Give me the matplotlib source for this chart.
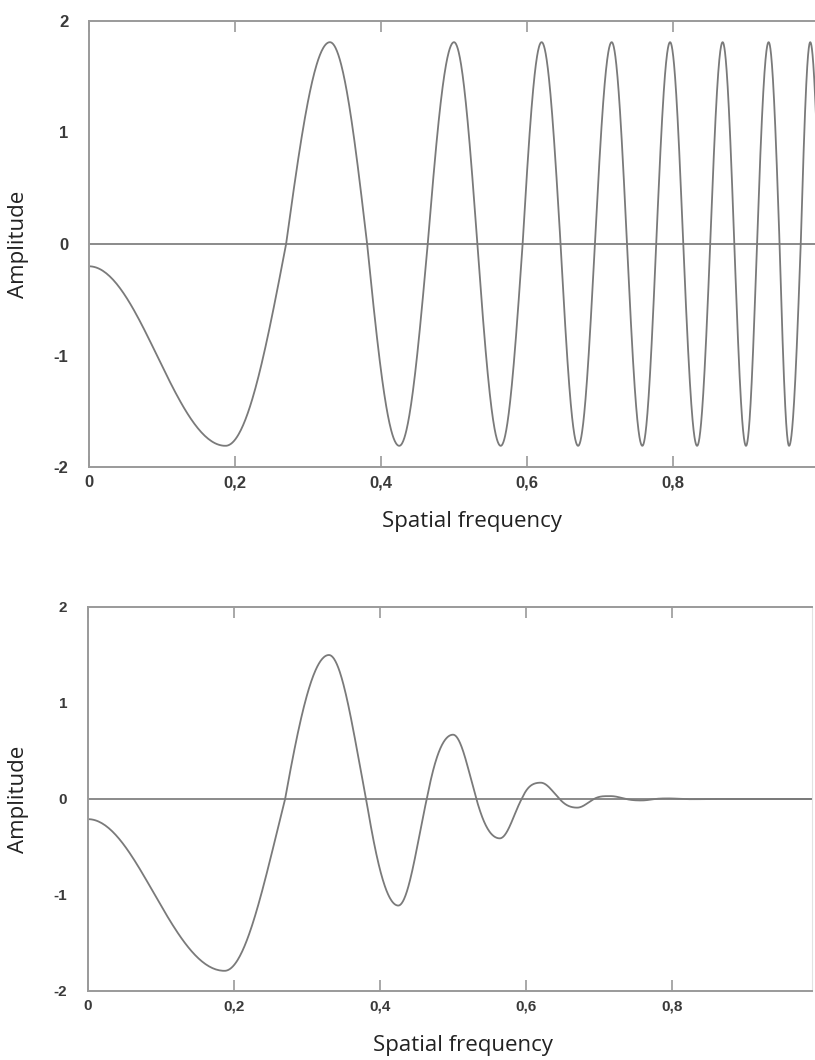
import numpy as np
import matplotlib.pyplot as plt

# positions of the extrema and zero crossings
ext_x = [0.0, 0.187, 0.330, 0.425, 0.500, 0.564, 0.620, 0.670, 0.716,
         0.758, 0.796, 0.833, 0.868, 0.900, 0.931, 0.959, 0.988]
zero_x = [0.270, 0.381, 0.464, 0.532, 0.594, 0.646, 0.693, 0.737,
          0.777, 0.814, 0.851, 0.884, 0.915, 0.946, 0.975, 1.002]

# amplitude at each extremum
top_ext_y = [-0.20, -1.81, 1.81, -1.81, 1.81, -1.81, 1.81, -1.81, 1.81,
             -1.81, 1.81, -1.81, 1.81, -1.81, 1.81, -1.81, 1.81]
bottom_ext_y = [-0.21, -1.79, 1.50, -1.11, 0.67, -0.41, 0.17, -0.09, 0.03,
                -0.015, 0.006, -0.002, 0.0, 0.0, 0.0, 0.0, 0.0]

x_ticks = [0, 0.2, 0.4, 0.6, 0.8, 1.0]
x_labels = ["0", "0,2", "0,4", "0,6", "0,8", "1"]
y_ticks = [-2, -1, 0, 1, 2]
y_labels = ["-2", "-1", "0", "1", "2"]


def key_points(ext_y):
    # extremum, extremum, then zero / extremum alternating
    pts = [(ext_x[0], ext_y[0], "e"), (ext_x[1], ext_y[1], "e")]
    for i in range(len(zero_x)):
        pts.append((zero_x[i], 0.0, "z"))
        if i + 2 < len(ext_x):
            pts.append((ext_x[i + 2], ext_y[i + 2], "e"))
    return pts


def trace(ext_y, n=80):
    pts = key_points(ext_y)
    xs, ys = [], []
    t = np.linspace(0, 1, n)
    for (x0, y0, k0), (x1, y1, k1) in zip(pts[:-1], pts[1:]):
        if k0 == "e" and k1 == "e":
            y = (y0 + y1) / 2 + (y0 - y1) / 2 * np.cos(np.pi * t)
        elif k1 == "z":
            y = y0 * np.cos(np.pi / 2 * t)
        else:
            y = y1 * np.sin(np.pi / 2 * t)
        xs.append(x0 + (x1 - x0) * t)
        ys.append(y)
    return np.concatenate(xs), np.concatenate(ys)


def damping(x):
    # ratio bottom / top at each extremum, smoothed between extrema
    ratio = np.array(bottom_ext_y) / np.array(top_ext_y)
    out = np.empty_like(x)
    ex = np.array(ext_x)
    for i, xv in enumerate(x):
        j = np.searchsorted(ex, xv, side="right") - 1
        if j >= len(ex) - 1:
            out[i] = ratio[-1]
            continue
        j = max(j, 0)
        t = (xv - ex[j]) / (ex[j + 1] - ex[j])
        out[i] = (ratio[j] + ratio[j + 1]) / 2 + (ratio[j] - ratio[j + 1]) / 2 * np.cos(np.pi * t)
    return out


def style(ax, xmax, ticks, labels, tick_size, right_spine):
    ax.set_xlim(0, xmax)
    ax.set_ylim(-2, 2)
    ax.axhline(0, color="#8a8a8a", lw=1.4, zorder=1)
    ax.set_xticks(ticks)
    ax.set_xticklabels(labels)
    ax.set_yticks(y_ticks)
    ax.set_yticklabels(y_labels)
    for s in ["left", "top", "bottom"]:
        ax.spines[s].set_color("#9a9a9a")
        ax.spines[s].set_linewidth(1.4)
    ax.spines["right"].set_color(right_spine)
    ax.tick_params(axis="x", direction="in", length=8, width=1.2,
                   color="#9a9a9a", top=True, pad=6)
    ax.tick_params(axis="y", length=0, pad=15)
    for lab in ax.get_xticklabels() + ax.get_yticklabels():
        lab.set_fontfamily("Liberation Sans")
        lab.set_fontweight("bold")
        lab.set_fontsize(tick_size)
        lab.set_color("#3a3a3a")


fig = plt.figure(figsize=(8.15, 10.6), dpi=100)

x, y_top = trace(top_ext_y)

ax1 = fig.add_axes([89 / 815, 1 - 467 / 1060, 730 / 815, 446 / 1060])
ax1.plot(x, y_top, color="#7a7a7a", lw=1.3, zorder=2)
style(ax1, 1.0, x_ticks, x_labels, 12, "#9a9a9a")
ax1.set_xlabel("Spatial frequency", fontsize=16, family="Open Sans", color="#222222")
ax1.set_ylabel("Amplitude", fontsize=16, family="Open Sans", color="#222222")
ax1.xaxis.set_label_coords(0.525, -0.123)
ax1.yaxis.set_label_coords(-0.097, 0.5)
ax1.xaxis.label.set_va("center")
ax1.yaxis.label.set_va("center")

ax2 = fig.add_axes([88 / 815, 1 - 991 / 1060, 724 / 815, 384 / 1060])
ax2.plot(x, y_top * damping(x), color="#7a7a7a", lw=1.3, zorder=2)
style(ax2, 724 / 730, x_ticks[:-1], x_labels[:-1], 11, "#e2e2e2")
ax2.set_xlabel("Spatial frequency", fontsize=16, family="Open Sans", color="#222222")
ax2.set_ylabel("Amplitude", fontsize=16, family="Open Sans", color="#222222")
ax2.xaxis.set_label_coords(0.518, -0.141)
ax2.yaxis.set_label_coords(-0.096, 0.5)
ax2.xaxis.label.set_va("center")
ax2.yaxis.label.set_va("center")

fig.savefig("out.png", dpi=100)
